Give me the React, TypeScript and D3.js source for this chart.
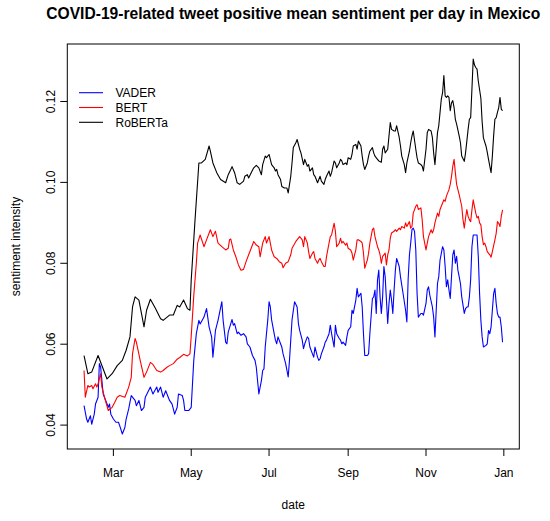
import React from "react";
import * as d3 from "d3";

// ---- data ----
const START_DATE = "2020-02-07";
const seriesNames = ["VADER", "BERT", "RoBERTa"];
const xTickDates = ["2020-03-01", "2020-05-01", "2020-07-01", "2020-09-01", "2020-11-01", "2021-01-01"];
const xTickLabels = ["Mar", "May", "Jul", "Sep", "Nov", "Jan"];
const yTickValues = [0.04, 0.06, 0.08, 0.1, 0.12];
const yTickLabels = ["0.04", "0.06", "0.08", "0.10", "0.12"];

// [day offset from START_DATE, mean positive sentiment]
const vaderPoints: [number, number][] = [
  [0,.0448],[2,.0415],[3,.0407],[5,.0423],[6,.0402],[8,.0427],[9,.0452],[11,.0469],[12,.0552],[13,.0543],
  [15,.0477],[16,.0469],[19,.0444],[20,.0452],[21,.0427],[23,.0415],[25,.0407],[27,.0407],[28,.0398],[30,.0378],
  [32,.0394],[33,.0415],[35,.0440],[37,.0473],[40,.0461],[41,.0448],[43,.0461],[45,.0436],[47,.0444],[48,.0469],
  [52,.0494],[54,.0477],[57,.0494],[58,.0481],[60,.0494],[62,.0469],[64,.0485],[67,.0461],[69,.0452],[71,.0427],
  [73,.0444],[74,.0477],[77,.0473],[78,.0461],[79,.0436],[82,.0436],[84,.0444],[86,.0560],[88,.0626],[90,.0659],
  [91,.0650],[94,.0667],[96,.0688],[98,.0643],[100,.0618],[101,.0568],[103,.0634],[105,.0659],[108,.0705],[109,.0659],
  [111,.0605],[112,.0601],[113,.0630],[115,.0651],[116,.0661],[117,.0647],[118,.0651],[120,.0626],[121,.0630],[123,.0622],
  [125,.0626],[127,.0618],[128,.0601],[130,.0593],[132,.0572],[134,.0560],[135,.0543],[137,.0477],[139,.0510],[140,.0535],
  [141,.0539],[142,.0593],[144,.0660],[145,.0705],[146,.0692],[147,.0660],[149,.0626],[150,.0610],[151,.0601],[152,.0618],
  [154,.0601],[155,.0593],[156,.0576],[158,.0552],[160,.0519],[161,.0560],[162,.0610],[163,.0660],[165,.0705],[167,.0692],
  [168,.0651],[169,.0634],[171,.0610],[172,.0589],[173,.0601],[175,.0618],[176,.0614],[177,.0593],[179,.0576],[180,.0568],
  [181,.0593],[183,.0568],[184,.0560],[185,.0564],[186,.0576],[188,.0593],[189,.0605],[190,.0610],[192,.0626],[193,.0647],
  [194,.0626],[196,.0593],[197,.0647],[198,.0626],[200,.0614],[201,.0610],[202,.0601],[203,.0605],[205,.0597],[206,.0618],
  [207,.0634],[209,.0643],[210,.0684],[211,.0676],[213,.0709],[214,.0738],[215,.0717],[217,.0726],[218,.0692],[219,.0626],
  [220,.0572],[222,.0572],[223,.0576],[224,.0626],[226,.0713],[227,.0717],[228,.0734],[229,.0676],[230,.0759],[231,.0783],
  [232,.0717],[233,.0676],[234,.0717],[235,.0792],[236,.0767],[237,.0709],[238,.0651],[239,.0701],[240,.0734],[241,.0709],
  [242,.0676],[243,.0734],[244,.0783],[245,.0812],[247,.0792],[248,.0767],[249,.0746],[250,.0726],[252,.0684],[253,.0655],
  [254,.0760],[255,.0820],[256,.0850],[257,.0883],[258,.0887],[259,.0879],[260,.0833],[261,.0726],[262,.0667],[264,.0676],
  [265,.0676],[266,.0672],[268,.0701],[269,.0734],[270,.0742],[271,.0721],[273,.0692],[274,.0667],[275,.0618],[276,.0684],
  [277,.0750],[278,.0767],[279,.0808],[281,.0841],[282,.0833],[283,.0792],[284,.0742],[285,.0759],[286,.0734],[287,.0713],
  [288,.0767],[289,.0821],[290,.0833],[291,.0800],[292,.0817],[293,.0783],[294,.0767],[295,.0750],[296,.0717],[298,.0676],
  [299,.0688],[300,.0692],[301,.0692],[302,.0717],[303,.0760],[304,.0841],[305,.0870],[306,.0870],[308,.0870],[309,.0816],
  [310,.0725],[311,.0659],[312,.0618],[313,.0593],[315,.0597],[316,.0601],[317,.0634],[318,.0626],[319,.0643],[320,.0684],
  [321,.0725],[322,.0738],[323,.0701],[324,.0676],[325,.0667],[326,.0667],[327,.0643],[328,.0605]
];

const bertPoints: [number, number][] = [
  [0,.0535],[1,.0469],[3,.0498],[4,.0494],[6,.0498],[7,.0490],[9,.0502],[10,.0494],[11,.0502],[13,.0527],
  [14,.0494],[16,.0469],[19,.0436],[22,.0444],[24,.0456],[26,.0469],[28,.0473],[32,.0469],[35,.0494],[37,.0518],
  [38,.0576],[40,.0614],[41,.0605],[44,.0560],[47,.0518],[49,.0531],[52,.0555],[54,.0550],[57,.0535],[60,.0531],
  [62,.0535],[65,.0543],[67,.0547],[70,.0552],[73,.0563],[75,.0567],[78,.0575],[81,.0571],[83,.0576],[84,.0620],
  [86,.0720],[88,.0800],[89,.0850],[91,.0870],[94,.0841],[96,.0858],[99,.0883],[101,.0866],[103,.0879],[105,.0850],
  [108,.0841],[111,.0833],[113,.0837],[114,.0858],[115,.0860],[117,.0833],[119,.0816],[121,.0796],[123,.0783],[125,.0785],
  [127,.0804],[129,.0821],[131,.0837],[133,.0854],[135,.0845],[137,.0841],[138,.0816],[140,.0850],[142,.0866],[143,.0850],
  [145,.0866],[146,.0850],[147,.0833],[149,.0816],[151,.0812],[153,.0804],[155,.0800],[156,.0789],[158,.0800],[160,.0804],
  [162,.0821],[163,.0837],[166,.0854],[168,.0862],[169,.0866],[171,.0858],[172,.0841],[173,.0866],[175,.0850],[176,.0829],
  [177,.0812],[179,.0825],[180,.0829],[181,.0812],[183,.0800],[184,.0808],[185,.0812],[186,.0804],[188,.0792],[189,.0792],
  [190,.0816],[192,.0850],[193,.0866],[194,.0870],[196,.0899],[197,.0879],[198,.0841],[200,.0850],[201,.0862],[202,.0850],
  [203,.0854],[205,.0845],[206,.0850],[207,.0837],[209,.0833],[210,.0825],[211,.0808],[213,.0833],[214,.0858],[215,.0858],
  [217,.0854],[218,.0850],[219,.0825],[220,.0788],[222,.0808],[223,.0825],[224,.0850],[226,.0883],[227,.0887],[228,.0866],
  [230,.0841],[231,.0833],[232,.0821],[233,.0800],[234,.0817],[236,.0825],[237,.0796],[238,.0821],[239,.0833],[240,.0862],
  [241,.0875],[243,.0879],[244,.0883],[245,.0879],[247,.0887],[248,.0883],[249,.0891],[251,.0887],[252,.0900],[253,.0891],
  [255,.0903],[256,.0887],[257,.0891],[258,.0924],[260,.0941],[261,.0945],[262,.0933],[264,.0937],[265,.0908],[266,.0866],
  [268,.0833],[269,.0850],[270,.0866],[272,.0883],[273,.0875],[274,.0883],[275,.0900],[277,.0924],[278,.0916],[279,.0933],
  [280,.0941],[281,.0949],[282,.0957],[283,.0953],[284,.0966],[286,.0982],[287,.0995],[288,.1015],[289,.1040],[290,.1057],
  [291,.1024],[292,.0995],[293,.0982],[294,.0970],[296,.0941],[297,.0908],[298,.0887],[299,.0912],[300,.0933],[301,.0916],
  [302,.0908],[303,.0903],[304,.0932],[305,.0957],[306,.0940],[307,.0924],[308,.0912],[309,.0916],[310,.0900],[311,.0895],
  [312,.0866],[313,.0846],[314,.0850],[315,.0841],[316,.0829],[318,.0821],[319,.0815],[320,.0829],[322,.0858],[323,.0874],
  [324,.0903],[325,.0899],[326,.0891],[327,.0916],[328,.0932]
];

const robertaPoints: [number, number][] = [
  [0,.0572],[3,.0527],[6,.0531],[11,.0572],[18,.0514],[22,.0527],[26,.0547],[30,.0560],[33,.0585],[36,.0618],
  [38,.0692],[40,.0717],[43,.0709],[45,.0676],[47,.0643],[49,.0684],[52,.0711],[56,.0688],[60,.0663],[62,.0659],
  [67,.0672],[70,.0672],[73,.0696],[75,.0692],[78,.0709],[81,.0688],[83,.0684],[84,.0759],[87,.0908],[90,.1048],
  [92,.1048],[95,.1057],[98,.1090],[99,.1077],[101,.1048],[104,.1024],[107,.1007],[111,.0999],[113,.1019],[115,.1032],
  [116,.1039],[118,.1024],[120,.0999],[122,.0995],[125,.1003],[126,.1015],[128,.1019],[129,.1011],[131,.1024],[133,.1036],
  [135,.1042],[137,.1036],[139,.1019],[140,.1044],[142,.1065],[143,.1061],[145,.1069],[147,.1044],[149,.1036],[150,.1028],
  [151,.1032],[152,.1019],[154,.1007],[155,.0990],[157,.0986],[159,.0986],[160,.0974],[162,.1015],[163,.1048],[164,.1086],
  [166,.1098],[167,.1106],[169,.1082],[170,.1073],[172,.1044],[173,.1057],[175,.1040],[176,.1044],[177,.1028],[179,.1036],
  [180,.1019],[181,.1015],[183,.0999],[184,.1007],[185,.1015],[186,.1003],[188,.0995],[189,.1007],[190,.1015],[192,.1028],
  [193,.1015],[194,.1024],[196,.1053],[197,.1048],[198,.1036],[200,.1048],[201,.1057],[202,.1053],[203,.1044],[205,.1048],
  [206,.1044],[207,.1061],[209,.1057],[210,.1069],[211,.1090],[213,.1094],[214,.1082],[215,.1102],[217,.1090],[218,.1065],
  [219,.1044],[220,.1032],[222,.1048],[223,.1065],[224,.1077],[226,.1086],[227,.1073],[228,.1065],[230,.1057],[231,.1053],
  [233,.1050],[234,.1082],[235,.1090],[236,.1073],[238,.1082],[239,.1115],[240,.1148],[241,.1131],[243,.1127],[244,.1127],
  [245,.1140],[247,.1111],[248,.1090],[249,.1065],[251,.1044],[252,.1024],[253,.1048],[255,.1077],[256,.1098],[257,.1115],
  [258,.1127],[260,.1082],[261,.1061],[262,.1048],[264,.1044],[265,.1040],[266,.1028],[268,.1082],[269,.1123],[270,.1131],
  [272,.1127],[273,.1111],[274,.1073],[275,.1044],[276,.1082],[277,.1123],[278,.1140],[279,.1173],[280,.1206],[281,.1222],
  [282,.1264],[283,.1214],[284,.1210],[285,.1214],[286,.1210],[287,.1177],[288,.1197],[289,.1202],[290,.1185],[291,.1156],
  [292,.1144],[294,.1115],[295,.1098],[296,.1065],[298,.1052],[299,.1073],[300,.1102],[301,.1131],[302,.1156],[303,.1160],
  [304,.1231],[305,.1305],[306,.1290],[307,.1284],[308,.1280],[309,.1250],[311,.1208],[312,.1150],[313,.1110],[315,.1090],
  [316,.1075],[317,.1057],[318,.1040],[319,.1024],[320,.1065],[321,.1115],[322,.1156],[323,.1160],[324,.1173],[325,.1185],
  [326,.1210],[327,.1181],[328,.1177]
];

// ---- styles / layout ----
const COLORS = ["#0000FF", "#FF0000", "#000000"];
const W = 550;
const H = 521;
const PLOT = { left: 67.3, right: 519.3, top: 44, bottom: 449 };
const FONT = "'Liberation Sans', Arial, Helvetica, sans-serif";

export default function App() {
  const parse = d3.timeParse("%Y-%m-%d");
  const start = parse(START_DATE) as Date;
  const allSeries = [vaderPoints, bertPoints, robertaPoints].map((pts) =>
    pts.map(([d, v]) => ({ date: d3.timeDay.offset(start, d), value: v }))
  );

  const flat = allSeries.flat();
  const [d0, d1] = d3.extent(flat, (p) => p.date.getTime()) as [number, number];
  const [v0, v1] = d3.extent(flat, (p) => p.value) as [number, number];
  const dPad = (d1 - d0) * 0.04;
  const vPad = (v1 - v0) * 0.04;

  const x = d3.scaleTime().domain([new Date(d0 - dPad), new Date(d1 + dPad)]).range([PLOT.left, PLOT.right]);
  const y = d3.scaleLinear().domain([v0 - vPad, v1 + vPad]).range([PLOT.bottom, PLOT.top]);

  const line = d3
    .line<{ date: Date; value: number }>()
    .x((p) => x(p.date))
    .y((p) => y(p.value));

  const cx = (PLOT.left + PLOT.right) / 2;
  const cy = (PLOT.top + PLOT.bottom) / 2;
  const legendRow0 = 92.7;
  const legendStep = 14.8;

  return (
    <svg
      width={W}
      height={H}
      viewBox={`0 0 ${W} ${H}`}
      style={{ position: "absolute", left: 0, top: 0, background: "#fff" }}
      fontFamily={FONT}
    >
      <rect x={0} y={0} width={W} height={H} fill="#fff" />
      <text x={cx} y={18.5} textAnchor="middle" fontWeight="bold" fontSize={15.6} fill="#000">
        COVID-19-related tweet positive mean sentiment per day in Mexico
      </text>

      {allSeries.map((s, i) => (
        <path key={seriesNames[i]} d={line(s) ?? ""} fill="none" stroke={COLORS[i]} strokeWidth={1.1} strokeLinejoin="round" />
      ))}

      <rect
        x={PLOT.left}
        y={PLOT.top}
        width={PLOT.right - PLOT.left}
        height={PLOT.bottom - PLOT.top}
        fill="none"
        stroke="#000"
        strokeWidth={1}
      />

      {xTickDates.map((ds, i) => {
        const px = x(parse(ds) as Date);
        return (
          <g key={ds}>
            <line x1={px} x2={px} y1={PLOT.bottom} y2={PLOT.bottom + 7} stroke="#000" strokeWidth={1} />
            <text x={px} y={477} textAnchor="middle" fontSize={12} fill="#000">
              {xTickLabels[i]}
            </text>
          </g>
        );
      })}

      {yTickValues.map((v, i) => {
        const py = y(v);
        return (
          <g key={v}>
            <line x1={PLOT.left - 7} x2={PLOT.left} y1={py} y2={py} stroke="#000" strokeWidth={1} />
            <text transform={`translate(54.5,${py}) rotate(-90)`} textAnchor="middle" fontSize={12} fill="#000">
              {yTickLabels[i]}
            </text>
          </g>
        );
      })}

      <text x={cx} y={509} textAnchor="middle" fontSize={12} fill="#000">
        date
      </text>
      <text transform={`translate(20,${cy}) rotate(-90)`} textAnchor="middle" fontSize={12} fill="#000">
        sentiment intensity
      </text>

      {seriesNames.map((name, i) => {
        const ly = legendRow0 + i * legendStep;
        return (
          <g key={name}>
            <line x1={79} x2={103} y1={ly} y2={ly} stroke={COLORS[i]} strokeWidth={1.1} />
            <text x={115.5} y={ly} dy="0.36em" fontSize={12} fill="#000">
              {name}
            </text>
          </g>
        );
      })}
    </svg>
  );
}
